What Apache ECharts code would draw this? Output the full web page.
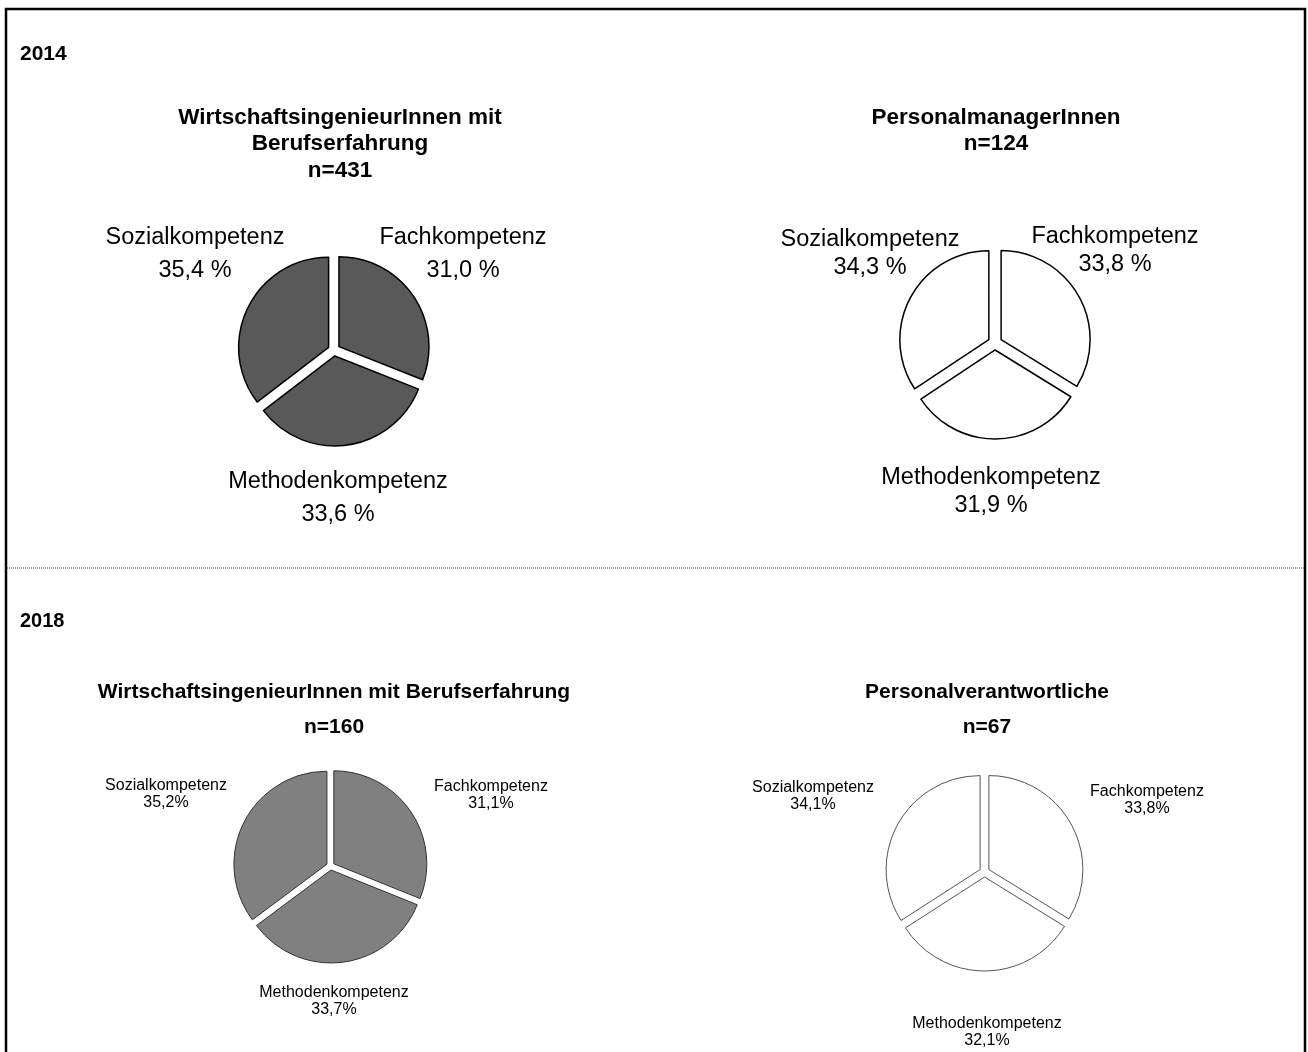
<!DOCTYPE html>
<html>
<head>
<meta charset="utf-8">
<script src="https://cdn.jsdelivr.net/npm/echarts@6/dist/echarts.min.js"></script>
<style>
  html, body { margin: 0; padding: 0; background: #fff; }
  #main { width: 1308px; height: 1052px; }
</style>
</head>
<body>
<div id="main"></div>
<script>
var categories = ['Fachkompetenz', 'Methodenkompetenz', 'Sozialkompetenz'];
var yearLabels = ['2014', '2018'];

// shares in percent, same order as categories
var wi2014 = [31.0, 33.6, 35.4];
var pm2014 = [33.8, 31.9, 34.3];
var wi2018 = [31.1, 33.7, 35.2];
var pv2018 = [33.8, 32.1, 34.1];

var chartTitles = [
  'WirtschaftsingenieurInnen mit\nBerufserfahrung\nn=431',
  'PersonalmanagerInnen\nn=124',
  'WirtschaftsingenieurInnen mit Berufserfahrung\nn=160',
  'Personalverantwortliche\nn=67'
];

var font = '"Liberation Sans", Arial, Helvetica, sans-serif';

// layout of the four pies
var pies = [
  { data: wi2014, center: [334, 350], r: 90, off: 6, fill: '#595959', stroke: '#000', bw: 1.5,
    fs: 23.5, lh: 33, sep: ' ', title: [340, 144], tfs: 22.5, tlh: 26.5,
    labels: [[463, 254], [338, 498], [195, 254]] },
  { data: pm2014, center: [995, 343], r: 89, off: 7, fill: '#fff', stroke: '#000', bw: 1.5,
    fs: 23.5, lh: 28, sep: ' ', title: [996, 131], tfs: 22.5, tlh: 26.5,
    labels: [[1115, 251], [991, 492], [870, 254]] },
  { data: wi2018, center: [330.5, 866], r: 93, off: 4, fill: '#808080', stroke: '#333', bw: 1,
    fs: 16, lh: 16.5, sep: '', title: [334, 710], tfs: 21, tlh: 35,
    labels: [[491, 795], [334, 1001], [166, 794]] },
  { data: pv2018, center: [984.5, 872], r: 94, off: 5, fill: '#fff', stroke: '#555', bw: 1,
    fs: 16, lh: 16.5, sep: '', title: [987, 710], tfs: 21, tlh: 35,
    labels: [[1147, 800], [987, 1032], [813, 796]] }
];

var chartDom = document.getElementById('main');
var myChart = echarts.init(chartDom);

var series = pies.map(function (p) {
  return {
    type: 'pie',
    center: p.center,
    radius: [0, p.r],
    startAngle: 90,
    clockwise: true,
    silent: true,
    animation: false,
    selectedMode: 'multiple',
    selectedOffset: p.off,
    itemStyle: { color: p.fill, borderColor: p.stroke, borderWidth: p.bw },
    select: { itemStyle: { color: p.fill, borderColor: p.stroke, borderWidth: p.bw } },
    emphasis: { disabled: true },
    label: { show: false },
    labelLine: { show: false },
    data: categories.map(function (c, i) {
      return { name: c, value: p.data[i], selected: true };
    })
  };
});

var graphics = [
  { type: 'rect', shape: { x: 6, y: 9, width: 1299, height: 1100 },
    style: { fill: 'none', stroke: '#000', lineWidth: 2.5 }, silent: true },
  { type: 'line', shape: { x1: 7, y1: 568, x2: 1304, y2: 568 },
    style: { stroke: '#444', lineWidth: 1, lineDash: [1, 1] }, silent: true },
  { type: 'text', x: 20, y: 54, style: { text: yearLabels[0], font: 'bold 21px ' + font,
    fill: '#000', textVerticalAlign: 'middle' } },
  { type: 'text', x: 20, y: 621, style: { text: yearLabels[1], font: 'bold 20px ' + font,
    fill: '#000', textVerticalAlign: 'middle' } }
];

pies.forEach(function (p, i) {
  graphics.push({
    type: 'text', x: p.title[0], y: p.title[1],
    style: {
      text: chartTitles[i], font: 'bold ' + p.tfs + 'px ' + font, lineHeight: p.tlh,
      fill: '#000', textAlign: 'center', textVerticalAlign: 'middle'
    }
  });
  // slice labels: category name and share
  categories.forEach(function (c, k) {
    graphics.push({
      type: 'text', x: p.labels[k][0], y: p.labels[k][1],
      style: {
        text: c + '\n' + p.data[k].toFixed(1).replace('.', ',') + p.sep + '%',
        font: p.fs + 'px ' + font, lineHeight: p.lh,
        fill: '#000', textAlign: 'center', textVerticalAlign: 'middle'
      }
    });
  });
});

var option = {
  backgroundColor: '#fff',
  animation: false,
  graphic: graphics,
  series: series
};

option && myChart.setOption(option);
</script>
</body>
</html>
